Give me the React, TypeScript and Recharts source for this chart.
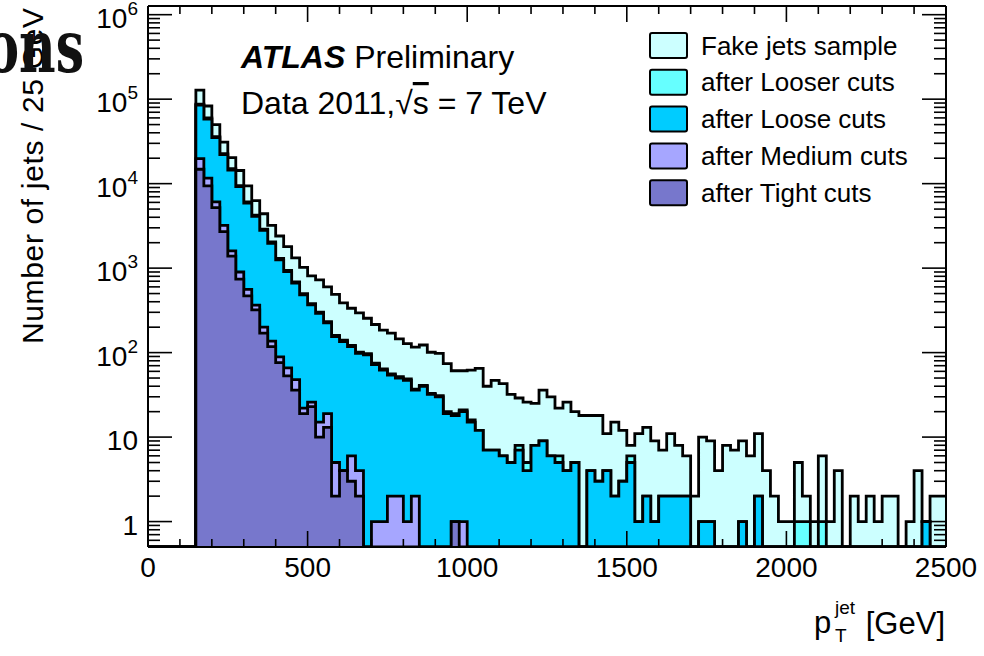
import React from 'react';
import { ComposedChart, Area, XAxis, YAxis } from 'recharts';

// ---------- data ----------
const BIN_WIDTH = 25; // GeV
const X_DOMAIN: [number, number] = [0, 2500];
const Y_DOMAIN: [number, number] = [0.5, 1.267e6];

// entries per 25 GeV bin, bins start at 0 GeV
const FAKE_JETS = [
  0, 0, 0, 0, 0, 0,
  128000, 83000, 50000, 31000, 20300, 14300, 9400, 6300, 4400, 3200,
  2400, 1800, 1320, 1020, 810, 725, 600, 490, 388, 335,
  295, 255, 215, 185, 170, 145, 128, 116, 123, 101,
  98, 74, 61, 61, 62, 65, 40, 47, 43, 32,
  29, 26, 25, 36, 30, 22, 26, 20, 18, 18,
  18, 11, 15, 12, 8, 11, 13, 9, 7, 11,
  8, 6, 2, 10, 9, 4, 8, 7, 9, 6,
  11, 4, 2, 1, 1, 5, 2, 1, 6, 1,
  4, 0, 2, 1, 2, 1, 2, 2, 0, 1,
  4, 1, 2, 2,
];
const AFTER_LOOSER = [
  0, 0, 0, 0, 0, 0,
  87000, 60000, 36000, 22700, 15000, 9500, 6100, 4250, 2900, 2040,
  1300, 940, 685, 498, 380, 302, 233, 160, 140, 122,
  101, 97, 75, 64, 56, 52, 49, 37, 41, 33,
  31, 20, 19, 21, 16, 12, 7, 7, 6, 5,
  8, 5, 8, 9, 6, 6, 4, 5, 0, 4,
  3, 4, 2, 3, 6, 1, 2, 1, 2, 2,
  2, 2, 0, 1, 1, 0, 0, 0, 1, 0,
  2, 0, 0, 0, 0, 1, 1, 0, 1, 0,
  0, 0, 0, 0, 0, 0, 0, 0, 0, 0,
  0, 1, 0, 0,
];
const AFTER_LOOSE = [
  0, 0, 0, 0, 0, 0,
  85000, 58000, 35000, 22000, 14500, 9200, 5900, 4100, 2800, 1970,
  1250, 910, 663, 482, 367, 292, 225, 155, 135, 118,
  98, 94, 72, 62, 54, 50, 47, 36, 40, 32,
  30, 19, 18, 20, 15, 12, 7, 7, 6, 5,
  7, 4, 8, 9, 6, 5, 4, 5, 0, 4,
  3, 4, 2, 3, 5, 1, 2, 1, 2, 2,
  2, 2, 0, 1, 1, 0, 0, 0, 1, 0,
  2, 0, 0, 0, 0, 0, 0, 0, 0, 0,
  0, 0, 0, 0, 0, 0, 0, 0, 0, 0,
  0, 1, 0, 0,
];
const AFTER_MEDIUM = [
  0, 0, 0, 0, 0, 0,
  19800, 11600, 6100, 3200, 1600, 900, 560, 364, 200, 137,
  89, 66, 48, 22, 26, 15, 19, 5, 4, 6,
  4, 0, 1, 1, 2, 2, 1, 2, 0, 0,
  0, 0, 1, 1, 0, 0, 0, 0, 0, 0,
  0, 0, 0, 0, 0, 0, 0, 0, 0, 0,
  0, 0, 0, 0, 0, 0, 0, 0, 0, 0,
  0, 0, 0, 0, 0, 0, 0, 0, 0, 0,
  0, 0, 0, 0, 0, 0, 0, 0, 0, 0,
  0, 0, 0, 0, 0, 0, 0, 0, 0, 0,
  0, 0, 0, 0,
];
const AFTER_TIGHT = [
  0, 0, 0, 0, 0, 0,
  14800, 9400, 5200, 2700, 1390, 740, 470, 320, 170, 118,
  76, 53, 36, 19, 23, 10, 13, 2, 4, 3,
  2, 0, 0, 0, 0, 0, 0, 0, 0, 0,
  0, 0, 1, 0, 0, 0, 0, 0, 0, 0,
  0, 0, 0, 0, 0, 0, 0, 0, 0, 0,
  0, 0, 0, 0, 0, 0, 0, 0, 0, 0,
  0, 0, 0, 0, 0, 0, 0, 0, 0, 0,
  0, 0, 0, 0, 0, 0, 0, 0, 0, 0,
  0, 0, 0, 0, 0, 0, 0, 0, 0, 0,
  0, 0, 0, 0,
];

const SERIES_KEYS = ['fake', 'looser', 'loose', 'medium', 'tight'];
const SERIES_NAMES = [
  'Fake jets sample',
  'after Looser cuts',
  'after Loose cuts',
  'after Medium cuts',
  'after Tight cuts',
];
const SERIES_COLORS = ['#ccffff', '#66ffff', '#00ccff', '#a6a6ff', '#7777cc'];
const SERIES_VALUES = [FAKE_JETS, AFTER_LOOSER, AFTER_LOOSE, AFTER_MEDIUM, AFTER_TIGHT];

const X_MAJOR_TICKS = [0, 500, 1000, 1500, 2000, 2500];
const X_MINOR_STEP = 100;
const Y_MAJOR_TICKS = [1, 10, 100, 1000, 10000, 100000, 1000000];
const Y_MINOR_MULTIPLIERS = [2, 3, 4, 5, 6, 7, 8, 9];
const Y_BELOW_ONE_TICKS = [0.6, 0.7, 0.8, 0.9];

// ---------- derived tables ----------
const X_TICKS: number[] = [];
for (let v = X_DOMAIN[0]; v <= X_DOMAIN[1]; v += X_MINOR_STEP) X_TICKS.push(v);

const Y_TICKS: number[] = [...Y_BELOW_ONE_TICKS];
Y_MAJOR_TICKS.forEach((m, i) => {
  Y_TICKS.push(m);
  if (i < Y_MAJOR_TICKS.length - 1) Y_MINOR_MULTIPLIERS.forEach((k) => Y_TICKS.push(k * m));
});

const chartData = Array.from({ length: FAKE_JETS.length + 1 }, (_, i) => {
  const row: Record<string, number> = { pt: i * BIN_WIDTH };
  SERIES_VALUES.forEach((vals, k) => {
    const v = vals[Math.min(i, vals.length - 1)];
    row[SERIES_KEYS[k]] = v > 0 ? v : Y_DOMAIN[0];
  });
  return row;
});

// ---------- styling ----------
const FONT = '"Liberation Sans", Arial, Helvetica, sans-serif';
const TICK_FONT = 28;

const isMajorY = (v: number) => Y_MAJOR_TICKS.indexOf(v) >= 0;
const isMajorX = (v: number) => X_MAJOR_TICKS.indexOf(v) >= 0;

function YLabel({ x, y, v }: { x: number; y: number; v: number }) {
  const exp = Math.round(Math.log10(v));
  return (
    <text x={x} y={y + 13} textAnchor="end" fontSize={TICK_FONT} fontFamily={FONT} fill="#000">
      {exp <= 1 ? (
        String(v)
      ) : (
        <>
          <tspan>10</tspan>
          <tspan dy={-13} fontSize={19}>
            {exp}
          </tspan>
        </>
      )}
    </text>
  );
}

function LeftTick(props: any) {
  const { x, y, payload } = props;
  const v = payload.value;
  const major = isMajorY(v);
  const len = major ? 24 : 12;
  return (
    <g>
      <line x1={x} x2={x + len} y1={y} y2={y} stroke="#000" strokeWidth={1.6} />
      {major && <YLabel x={x - 10} y={y} v={v} />}
    </g>
  );
}

function RightTick(props: any) {
  const { x, y, payload } = props;
  const len = isMajorY(payload.value) ? 24 : 12;
  return <line x1={x} x2={x - len} y1={y} y2={y} stroke="#000" strokeWidth={1.6} />;
}

function BottomTick(props: any) {
  const { x, y, payload } = props;
  const major = isMajorX(payload.value);
  const len = major ? 16 : 8;
  return (
    <g>
      <line x1={x} x2={x} y1={y} y2={y - len} stroke="#000" strokeWidth={1.6} />
      {major && (
        <text x={x} y={y + 30} textAnchor="middle" fontSize={TICK_FONT} fontFamily={FONT} fill="#000">
          {payload.value}
        </text>
      )}
    </g>
  );
}

function TopTick(props: any) {
  const { x, y, payload } = props;
  const len = isMajorX(payload.value) ? 16 : 8;
  return <line x1={x} x2={x} y1={y} y2={y + len} stroke="#000" strokeWidth={1.6} />;
}

const LEGEND_X = 650;
const LEGEND_Y0 = 45.5;
const LEGEND_DY = 36.8;

export default function App() {
  return (
    <div
      style={{
        position: 'absolute',
        left: 0,
        top: 0,
        width: 984,
        height: 656,
        background: '#fff',
        overflow: 'hidden',
      }}
    >
      <div style={{ position: 'absolute', left: 0, top: 0 }}>
        <ComposedChart
          width={984}
          height={656}
          data={chartData}
          margin={{ top: 0, right: 28, bottom: 69, left: 88 }}
        >
          {SERIES_KEYS.map((k, idx) => (
            <Area
              key={k}
              dataKey={k}
              name={SERIES_NAMES[idx]}
              type="stepAfter"
              fill={SERIES_COLORS[idx]}
              fillOpacity={1}
              stroke="#000"
              strokeWidth={2.8}
              baseValue={Y_DOMAIN[0]}
              dot={false}
              activeDot={false}
              isAnimationActive={false}
            />
          ))}
          <XAxis
            dataKey="pt"
            type="number"
            domain={X_DOMAIN}
            allowDataOverflow
            ticks={X_TICKS}
            interval={0}
            height={40}
            tickSize={0}
            tickMargin={0}
            tickLine={false}
            axisLine={{ stroke: '#000', strokeWidth: 2 }}
            tick={<BottomTick />}
          />
          <XAxis
            xAxisId="top"
            orientation="top"
            dataKey="pt"
            type="number"
            domain={X_DOMAIN}
            allowDataOverflow
            ticks={X_TICKS}
            interval={0}
            height={6}
            tickSize={0}
            tickMargin={0}
            tickLine={false}
            axisLine={{ stroke: '#000', strokeWidth: 2 }}
            tick={<TopTick />}
          />
          <YAxis
            type="number"
            scale="log"
            domain={Y_DOMAIN}
            allowDataOverflow
            ticks={Y_TICKS}
            interval={0}
            width={60}
            tickSize={0}
            tickMargin={0}
            tickLine={false}
            axisLine={{ stroke: '#000', strokeWidth: 2 }}
            tick={<LeftTick />}
          />
          <YAxis
            yAxisId="right"
            orientation="right"
            type="number"
            scale="log"
            domain={Y_DOMAIN}
            allowDataOverflow
            ticks={Y_TICKS}
            interval={0}
            width={10}
            tickSize={0}
            tickMargin={0}
            tickLine={false}
            axisLine={{ stroke: '#000', strokeWidth: 2 }}
            tick={<RightTick />}
          />
        </ComposedChart>
      </div>
      <svg
        width={984}
        height={656}
        style={{ position: 'absolute', left: 0, top: 0, pointerEvents: 'none' }}
      >
        {/* legend */}
        {SERIES_NAMES.map((name, i) => {
          const cy = LEGEND_Y0 + i * LEGEND_DY;
          return (
            <g key={name}>
              <rect
                x={LEGEND_X}
                y={cy - 12.5}
                width={37}
                height={25}
                rx={2}
                fill={SERIES_COLORS[i]}
                stroke="#000"
                strokeWidth={2}
              />
              <text x={LEGEND_X + 51} y={cy + 9} fontSize={26} fontFamily={FONT} fill="#000">
                {name}
              </text>
            </g>
          );
        })}
        {/* ATLAS labels */}
        <text x={241} y={68} fontSize={32} fontFamily={FONT} fill="#000">
          <tspan fontWeight="bold" fontStyle="italic">
            ATLAS
          </tspan>
          <tspan> Preliminary</tspan>
        </text>
        <text x={241} y={114} fontSize={32} fontFamily={FONT} fill="#000">
          <tspan>Data 2011,</tspan>
          <tspan>√</tspan>
          <tspan style={{ textDecoration: 'overline' }}>s</tspan>
          <tspan> = 7 TeV</tspan>
        </text>
        {/* axis titles */}
        <text
          x={43}
          y={344}
          transform="rotate(-90 43 344)"
          fontSize={30}
          fontFamily={FONT}
          fill="#000"
          textLength={336}
          lengthAdjust="spacing"
        >
          Number of jets / 25 GeV
        </text>
        <text x={814} y={633} fontSize={31} fontFamily={FONT} fill="#000">
          p
        </text>
        <text x={835} y={614} fontSize={19} fontFamily={FONT} fill="#000">
          jet
        </text>
        <text x={835} y={642} fontSize={19} fontFamily={FONT} fill="#000">
          T
        </text>
        <text x={945} y={634} textAnchor="end" fontSize={31} fontFamily={FONT} fill="#000">
          [GeV]
        </text>
        {/* overlapping slide title fragment */}
        <text
          x={120}
          y={72}
          transform="scale(0.7 1)"
          textAnchor="end"
          fontSize={72}
          fontWeight="bold"
          fontFamily='"DejaVu Serif", "Liberation Serif", serif'
          fill="#111"
        >
          ons
        </text>
      </svg>
    </div>
  );
}
